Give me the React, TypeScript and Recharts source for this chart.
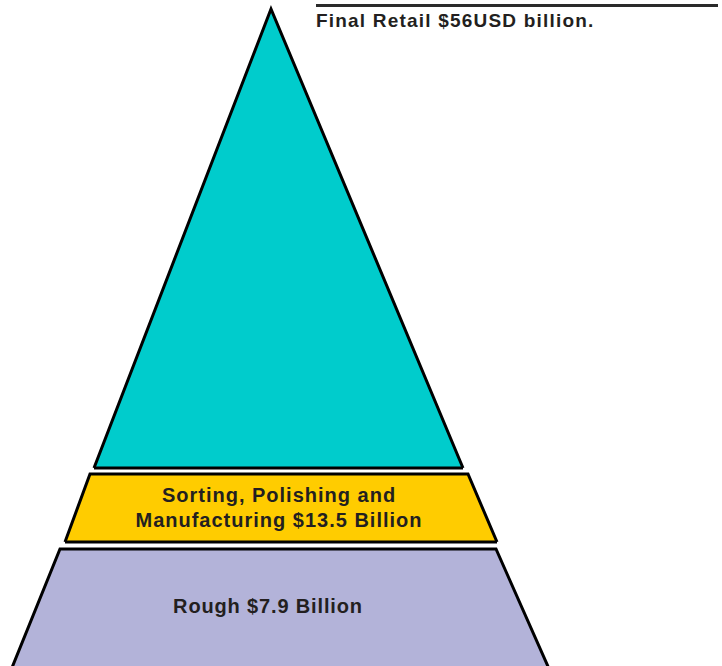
import React from 'react';
import { ComposedChart, Area, XAxis, YAxis, ReferenceDot, ReferenceLine } from 'recharts';

// tiers of the diamond value pipeline, USD billion
const tierNames = ['Final Retail', 'Sorting, Polishing and Manufacturing', 'Rough'];
const tierValues = [56, 13.5, 7.9];
const tierColors = ['#00CCCC', '#FFCC00', '#B3B3D9'];

// outline of each tier: x across the page, h = [base, top] height above the floor
const retailShape = [
  { x: 94, h: [232, 232] },
  { x: 271, h: [232, 691] },
  { x: 463, h: [232, 232] },
];
const processingShape = [
  { x: 65, h: [158, 158] },
  { x: 90, h: [158, 226] },
  { x: 468, h: [158, 226] },
  { x: 497, h: [158, 158] },
];
const roughShape = [
  { x: 7, h: [20, 20] },
  { x: 60, h: [20, 151] },
  { x: 496, h: [20, 151] },
  { x: 554, h: [20, 20] },
];

const W = 722;
const H = 700;
const baseText = {
  fontFamily: '"Liberation Sans", Arial, sans-serif',
  fontWeight: 700,
  fill: '#231F20',
};

const TextLabel = ({ viewBox, lines, anchor, size, spacing }: any) => {
  const cx = viewBox.x + viewBox.width / 2;
  const cy = viewBox.y + viewBox.height / 2;
  return (
    <text x={cx} y={cy} textAnchor={anchor} style={{ ...baseText, fontSize: size, letterSpacing: spacing }}>
      {lines.map((l: string, i: number) => (
        <tspan key={i} x={cx} dy={i === 0 ? 0 : 25}>{l}</tspan>
      ))}
    </text>
  );
};

export default function App() {
  const shapes = [retailShape, processingShape, roughShape];
  return (
    <div style={{ position: 'absolute', left: 0, top: 0, width: W, height: 666, overflow: 'hidden', background: '#fff' }}>
      <ComposedChart width={W} height={H} margin={{ top: 0, right: 0, bottom: 0, left: 0 }}>
        <XAxis type="number" dataKey="x" domain={[0, W]} hide />
        <YAxis type="number" domain={[0, H]} hide />
        {shapes.map((s, i) => (
          <Area
            key={tierNames[i]}
            data={s}
            dataKey="h"
            type="linear"
            stroke="#000"
            strokeWidth={3}
            fill={tierColors[i]}
            fillOpacity={1}
            dot={false}
            activeDot={false}
            isAnimationActive={false}
          />
        ))}
        <ReferenceLine segment={[{ x: 316, y: 694.5 }, { x: 718, y: 694.5 }]} stroke="#2a2a2a" strokeWidth={3} />
        <ReferenceDot x={316} y={673} r={0} fill="none" stroke="none"
          label={{ content: (p: any) => <TextLabel {...p} anchor="start" size={19} spacing={1.2}
            lines={[`${tierNames[0]} $${tierValues[0]}USD billion.`]} /> }} />
        <ReferenceDot x={279} y={198} r={0} fill="none" stroke="none"
          label={{ content: (p: any) => <TextLabel {...p} anchor="middle" size={20} spacing={1}
            lines={['Sorting, Polishing and', `Manufacturing $${tierValues[1]} Billion`]} /> }} />
        <ReferenceDot x={268} y={87.5} r={0} fill="none" stroke="none"
          label={{ content: (p: any) => <TextLabel {...p} anchor="middle" size={20} spacing={0.85}
            lines={[`${tierNames[2]} $${tierValues[2]} Billion`]} /> }} />
      </ComposedChart>
    </div>
  );
}
